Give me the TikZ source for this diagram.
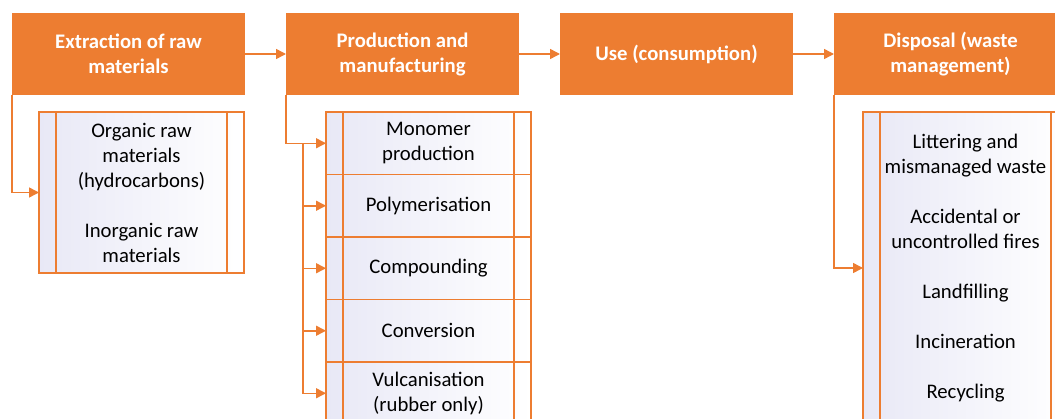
\documentclass[tikz,border=0pt]{standalone}
\usepackage{fontspec}
\setmainfont{Carlito}
\usetikzlibrary{positioning,arrows.meta}
\definecolor{stageorange}{HTML}{ED7D31}
\definecolor{sublav}{HTML}{E8E8F6}

\begin{document}
\begin{tikzpicture}[
  stage/.style={fill=stageorange, text=white, minimum width=233bp, minimum height=82bp, inner sep=0pt, outer sep=0pt, align=center, font=\fontsize{20.8}{25.1}\selectfont\bfseries},
  sub/.style={draw=stageorange, line width=1.2bp, minimum width=205bp, inner sep=0pt, outer sep=0pt, align=center, font=\fontsize{20.8}{25.1}\selectfont,
    path picture={
      \shade[left color=sublav, right color=white] (path picture bounding box.north west) rectangle (path picture bounding box.south east);
      \draw[stageorange, line width=1.4bp]
      ([xshift=17bp]path picture bounding box.north west) -- ([xshift=17bp]path picture bounding box.south west)
      ([xshift=-17bp]path picture bounding box.north east) -- ([xshift=-17bp]path picture bounding box.south east);}},
  arr/.style={draw=stageorange, line width=1.5bp, -{Triangle[length=10bp,width=10bp]}},
  node distance=0pt and 41bp]
\clip (0,0) rectangle (1055bp,-419bp);
% life cycle stages
\node[stage, anchor=north west] (ext) at (12bp,-13bp) {Extraction of raw\\materials};
\node[stage, right=of ext] (prod) {Production and\\manufacturing};
\node[stage, right=of prod] (use) {Use (consumption)};
\node[stage, right=of use] (disp) {Disposal (waste\\management)};
% sub-steps
\node[sub, minimum height=161bp, below right=17bp and 27bp of ext.south west] (rawsub) {Organic raw\\materials\\(hydrocarbons)\\[25bp]Inorganic raw\\materials};
\node[sub, minimum height=62.5bp, below right=17bp and 40bp of prod.south west] (mono) {Monomer\\production};
\node[sub, minimum height=62.5bp, below=of mono] (poly) {Polymerisation};
\node[sub, minimum height=62.5bp, below=of poly] (comp) {Compounding};
\node[sub, minimum height=62.5bp, below=of comp] (conv) {Conversion};
\node[sub, minimum height=62.5bp, below=of conv] (vulc) {Vulcanisation\\(rubber only)};
\node[sub, minimum height=312bp, below right=17bp and 29bp of disp.south west] (wastesub) {Littering and\\mismanaged waste\\[25bp]Accidental or\\uncontrolled fires\\[25bp]Landfilling\\[25bp]Incineration\\[25bp]Recycling};
\path (prod.south west |- mono.west) ++(17bp,0) coordinate (tap);
\draw[arr] (ext) -- (prod); \draw[arr] (prod) -- (use); \draw[arr] (use) -- (disp);
\draw[arr] (ext.south west) |- (rawsub.west);
\draw[arr] (prod.south west) |- (mono.west);
\draw[arr] (tap) |- (poly.west); \draw[arr] (tap) |- (comp.west);
\draw[arr] (tap) |- (conv.west); \draw[arr] (tap) |- (vulc.west);
\draw[arr] (disp.south west) |- (wastesub.west);
\end{tikzpicture}
\end{document}
